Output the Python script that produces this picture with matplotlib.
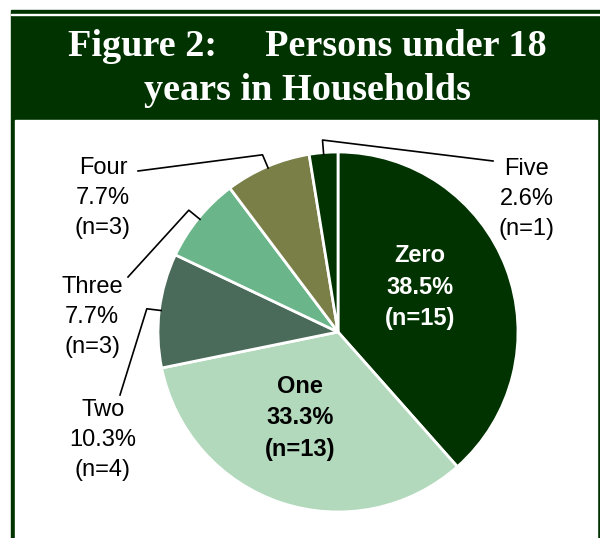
import matplotlib.pyplot as plt
import numpy as np
from matplotlib.patches import Rectangle

plt.rcParams['font.family'] = ['Liberation Sans', 'DejaVu Sans']

categories = ['Zero', 'One', 'Two', 'Three', 'Four', 'Five']
counts = [15, 13, 4, 3, 3, 1]
pct_labels = ['38.5%', '33.3%', '10.3%', '7.7%', '7.7%', '2.6%']
colors = ['#003300', '#b3d9bd', '#4b6b5a', '#6bb58a', '#7a7f48', '#003300']

W, H = 600, 538
fig = plt.figure(figsize=(W / 100, H / 100), dpi=100)

# frame and title band (pixel coords)
bg = fig.add_axes([0, 0, 1, 1])
bg.set_xlim(0, W)
bg.set_ylim(H, 0)
bg.axis('off')
bg.add_patch(Rectangle((11, 10), W - 11, H, color='#003300'))
bg.add_patch(Rectangle((11, 13.5), W - 11, 1.2, color='white'))
bg.add_patch(Rectangle((15, 120), 582, H, color='white'))
bg.text(307, 46, 'Figure 2:     Persons under 18', family='Liberation Serif',
        fontweight='bold', fontsize=27.5, color='white', ha='center', va='center')
bg.text(307, 90, 'years in Households', family='Liberation Serif',
        fontweight='bold', fontsize=27.5, color='white', ha='center', va='center')

# pie: center (338, 332), radius 180 px
cx, cy, r = 338, 332, 180
ax = fig.add_axes([(cx - r) / W, (H - cy - r) / H, 2 * r / W, 2 * r / H])
wedges, _ = ax.pie(counts, colors=colors, startangle=90, counterclock=False,
                   radius=1, wedgeprops=dict(edgecolor='white', linewidth=2))
ax.set_xlim(-1, 1)
ax.set_ylim(-1, 1)
ax.set_aspect('equal')
ax.axis('off')


def px(x, y):
    return ((x - cx) / r, (cy - y) / r)


fs = 17
ls = 1.45

# inside labels
ax.text(*px(420, 287), 'Zero\n38.5%\n(n=15)', color='white', fontweight='bold',
        fontsize=fs, ha='center', va='center', linespacing=ls)
ax.text(*px(300, 418), 'One\n33.3%\n(n=13)', color='black', fontweight='bold',
        fontsize=fs, ha='center', va='center', linespacing=ls)

# outside labels with leader lines
outside = {
    2: dict(text=px(103, 440), end=px(120, 395)),
    3: dict(text=px(92, 317), end=px(128, 277)),
    4: dict(text=px(103, 198), end=px(138, 171)),
    5: dict(text=px(527, 199), end=px(493, 161)),
}
for i, o in outside.items():
    w = wedges[i]
    mid = np.deg2rad((w.theta1 + w.theta2) / 2)
    a = (np.cos(mid) * 0.99, np.sin(mid) * 0.99)
    e = (np.cos(mid) * 1.07, np.sin(mid) * 1.07)
    ax.plot([a[0], e[0], o['end'][0]], [a[1], e[1], o['end'][1]],
            color='black', linewidth=1.2, clip_on=False)
    ax.text(*o['text'], f"{categories[i]}\n{pct_labels[i]}\n(n={counts[i]})",
            fontsize=fs, ha='center', va='center', linespacing=ls,
            color='black')

fig.savefig('out.png', dpi=100)
